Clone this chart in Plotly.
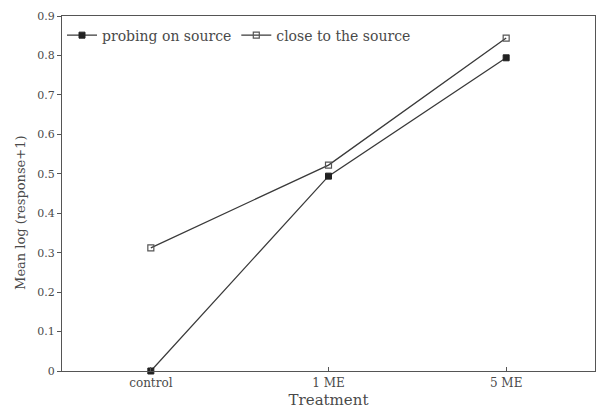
import plotly.graph_objects as go

categories = ["control", "1 ME", "5 ME"]
probing_on_source = [0.0, 0.494, 0.794]
close_to_source = [0.312, 0.522, 0.844]
y_ticks = [0, 0.1, 0.2, 0.3, 0.4, 0.5, 0.6, 0.7, 0.8, 0.9]
y_tick_labels = ["0", "0.1", "0.2", "0.3", "0.4", "0.5", "0.6", "0.7", "0.8", "0.9"]

x_pos = list(range(len(categories)))
line_col = "#3a3a3a"
font_fam = "DejaVu Serif"

fig = go.Figure()
fig.add_trace(go.Scatter(
    x=x_pos, y=probing_on_source, mode="lines+markers", name="probing on source",
    line=dict(color=line_col, width=1.3),
    marker=dict(symbol="square", size=6, color="#222222", line=dict(color="#222222", width=1)),
    cliponaxis=False,
))
fig.add_trace(go.Scatter(
    x=x_pos, y=close_to_source, mode="lines+markers", name="close to the source",
    line=dict(color=line_col, width=1.3),
    marker=dict(symbol="square-open", size=6, color="#555555", line=dict(width=1.2)),
    cliponaxis=False,
))

fig.update_layout(
    width=597, height=412,
    margin=dict(l=62, r=2, t=16, b=41),
    paper_bgcolor="white", plot_bgcolor="white",
    font=dict(family=font_fam, size=13, color="#4a4a4a"),
    showlegend=True,
    legend=dict(orientation="h", x=0.0, y=0.99, xanchor="left", yanchor="top",
                bgcolor="rgba(0,0,0,0)", font=dict(size=14, color="#4a4a4a"),
                itemwidth=30, tracegroupgap=0),
    xaxis=dict(
        range=[-0.5, 2.5], tickmode="array", tickvals=x_pos, ticktext=categories,
        showgrid=False, zeroline=False, showline=True, linecolor="#555555", linewidth=1.2,
        mirror=True, ticks="inside", ticklen=4, tickcolor="#555555", automargin=False,
        title=dict(text="Treatment", standoff=5, font=dict(size=15)),
        tickfont=dict(size=12),
    ),
    yaxis=dict(
        range=[0, 0.9], tickmode="array", tickvals=y_ticks, ticktext=y_tick_labels,
        showgrid=False, zeroline=False, showline=True, linecolor="#555555", linewidth=1.2,
        mirror=True, ticks="outside", ticklen=4, tickcolor="#555555", automargin=False,
        tickfont=dict(size=11),
    ),
    annotations=[dict(
        text="Mean log (response+1)", textangle=-90, showarrow=False,
        xref="paper", yref="paper", x=-0.079, y=0.445, xanchor="center", yanchor="middle",
        font=dict(size=13, color="#4a4a4a"),
    )],
)

fig.write_html("out.html", config={"displayModeBar": False},
               post_script="document.body.style.margin='0px';")
